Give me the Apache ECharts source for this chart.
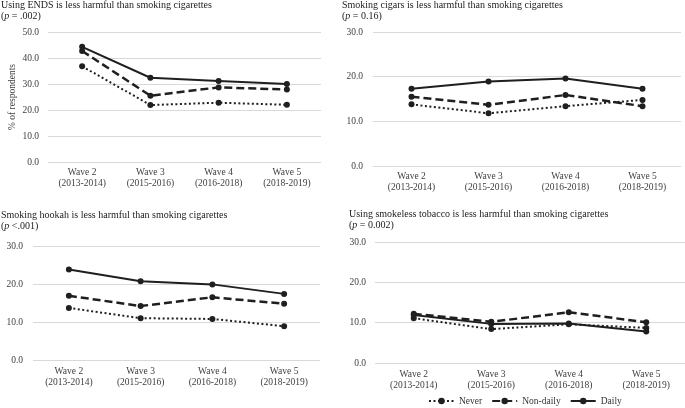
<!DOCTYPE html>
<html>
<head>
<meta charset="utf-8">
<script src="https://cdn.jsdelivr.net/npm/echarts@6/dist/echarts.min.js"></script>
<style>
  html, body { margin: 0; padding: 0; background: #fff; }
  #chart { width: 685px; height: 408px; }
</style>
</head>
<body>
<div id="chart"></div>
<script>
// categories shared by all four panels
const waves = ['Wave 2\n(2013-2014)', 'Wave 3\n(2015-2016)', 'Wave 4\n(2016-2018)', 'Wave 5\n(2018-2019)']
const groups = ['Never', 'Non-daily', 'Daily']

// panel titles and p values
const titles = [
  'Using ENDS is less harmful than smoking cigarettes',
  'Smoking cigars is less harmful than smoking cigarettes',
  'Smoking hookah is less harmful than smoking cigarettes',
  'Using smokeless tobacco is less harmful than smoking cigarettes'
]
const pValues = [' = .002)', ' = 0.16)', ' <.001)', ' = 0.002)']
const yMax = [50, 30, 30, 30]

// % of respondents, per panel: Never / Non-daily / Daily
const endsNever = [36.8, 21.9, 22.8, 22.0]
const endsNonDaily = [42.7, 25.5, 28.7, 27.9]
const endsDaily = [44.3, 32.4, 31.2, 30.0]

const cigarsNever = [13.8, 11.8, 13.4, 14.8]
const cigarsNonDaily = [15.5, 13.7, 15.9, 13.4]
const cigarsDaily = [17.3, 18.9, 19.6, 17.3]

const hookahNever = [13.7, 11.0, 10.8, 8.9]
const hookahNonDaily = [16.9, 14.2, 16.5, 14.8]
const hookahDaily = [23.8, 20.7, 19.9, 17.4]

const smokelessNever = [11.1, 8.4, 9.6, 8.7]
const smokelessNonDaily = [12.2, 10.2, 12.6, 10.1]
const smokelessDaily = [11.9, 9.7, 9.8, 7.8]

const panelData = [
  [endsNever, endsNonDaily, endsDaily],
  [cigarsNever, cigarsNonDaily, cigarsDaily],
  [hookahNever, hookahNonDaily, hookahDaily],
  [smokelessNever, smokelessNonDaily, smokelessDaily]
]

const FONT = '"Liberation Serif", "Times New Roman", serif'
const INK = '#1f1f1f'
const GRID_LINE = '#d9d9d9'

// layout of each panel (px)
const grids = [
  { left: 48, right: 364, top: 32, bottom: 246 },
  { left: 373, right: 4, top: 32, bottom: 242 },
  { left: 33, right: 365, top: 246, bottom: 48 },
  { left: 375, right: 0, top: 242, bottom: 45 }
]
const titlePos = [
  { left: 1, top: 0 },
  { left: 342, top: 0 },
  { left: 1, top: 210 },
  { left: 349, top: 209 }
]
const yLabelMargin = [9, 10, 10, 9]
const xLabelMargin = [5, 5, 6, 6]

const lineStyles = [
  { type: [2, 2.5], width: 2 },
  { type: [8, 4], width: 2.5 },
  { type: 'solid', width: 2 }
]

const chart = echarts.init(document.getElementById('chart'))

const option = {
  animation: false,
  textStyle: { fontFamily: FONT },
  title: titles.map((t, i) => ({
    text: t + '\n({i|p}' + pValues[i],
    left: titlePos[i].left,
    top: titlePos[i].top,
    padding: 0,
    textStyle: {
      fontFamily: FONT,
      fontSize: 10,
      fontWeight: 'normal',
      color: '#222',
      lineHeight: 11,
      rich: {
        i: { fontFamily: FONT, fontSize: 10, fontStyle: 'italic', color: '#222', lineHeight: 11 }
      }
    }
  })),
  legend: {
    data: groups,
    left: 428,
    top: 396,
    padding: 0,
    itemWidth: 25,
    itemHeight: 8,
    itemGap: 9,
    textStyle: { fontFamily: FONT, fontSize: 9.5, color: '#333' }
  },
  grid: grids,
  xAxis: grids.map((g, i) => ({
    type: 'category',
    gridIndex: i,
    data: waves,
    boundaryGap: true,
    axisLine: { show: false },
    axisTick: { show: false },
    axisLabel: {
      fontFamily: FONT,
      fontSize: 9.5,
      color: '#404040',
      lineHeight: 11,
      margin: xLabelMargin[i],
      interval: 0
    }
  })),
  yAxis: grids.map((g, i) => ({
    type: 'value',
    gridIndex: i,
    min: 0,
    max: yMax[i],
    interval: 10,
    name: i === 0 ? '% of respondents' : '',
    nameLocation: 'middle',
    nameRotate: 90,
    nameGap: 31,
    nameMoveOverlap: false,
    nameTextStyle: { fontFamily: FONT, fontSize: 9.5, color: '#404040' },
    axisLine: { show: false },
    axisTick: { show: false },
    axisLabel: {
      fontFamily: FONT,
      fontSize: 9.5,
      color: '#404040',
      margin: yLabelMargin[i],
      formatter: v => v.toFixed(1)
    },
    splitLine: { lineStyle: { color: GRID_LINE, width: 1 } }
  })),
  series: panelData.flatMap((sets, p) => sets.map((vals, k) => ({
    name: groups[k],
    type: 'line',
    xAxisIndex: p,
    yAxisIndex: p,
    data: vals,
    symbol: 'circle',
    symbolSize: 6,
    itemStyle: { color: INK },
    lineStyle: Object.assign({ color: INK }, lineStyles[k]),
    z: 3 + k
  })))
}

chart.setOption(option)
</script>
</body>
</html>
